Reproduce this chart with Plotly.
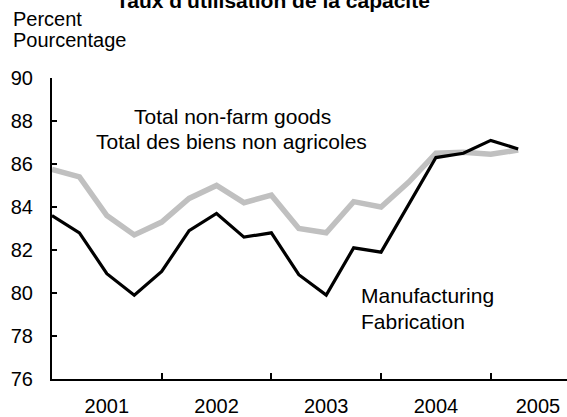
import plotly.graph_objects as go

# Quarterly capacity utilization rates, 2001Q1 - 2005Q2
start_year = 2001
quarters = ["2001Q1", "2001Q2", "2001Q3", "2001Q4",
            "2002Q1", "2002Q2", "2002Q3", "2002Q4",
            "2003Q1", "2003Q2", "2003Q3", "2003Q4",
            "2004Q1", "2004Q2", "2004Q3", "2004Q4",
            "2005Q1", "2005Q2"]
manufacturing = [83.6, 82.8, 80.9, 79.9, 81.0, 82.9, 83.7, 82.6, 82.8,
                 80.85, 79.9, 82.1, 81.9, 84.1, 86.3, 86.5, 87.1, 86.7]
non_farm_goods = [85.75, 85.4, 83.6, 82.7, 83.3, 84.4, 85.0, 84.2, 84.55,
                  83.0, 82.8, 84.25, 84.0, 85.15, 86.5, 86.55, 86.45, 86.65]
year_labels = ["2001", "2002", "2003", "2004", "2005"]
y_ticks = [76, 78, 80, 82, 84, 86, 88, 90]

# quarter "YYYYQn" -> fractional year at the start of the quarter
x = [int(q[:4]) + (int(q[5]) - 1) / 4 for q in quarters]

FONT = "Liberation Sans, Arial, sans-serif"

fig = go.Figure()
fig.add_trace(go.Scatter(x=x, y=non_farm_goods, mode="lines",
                         line=dict(color="#c0c0c0", width=5.5),
                         hoverinfo="skip", showlegend=False))
fig.add_trace(go.Scatter(x=x, y=manufacturing, mode="lines",
                         line=dict(color="#000000", width=3.2),
                         hoverinfo="skip", showlegend=False))

# year labels sit mid-year; the last one is nudged left to stay on the page
label_pos = [int(y) + 0.5 for y in year_labels]
label_pos[-1] -= 0.07

fig.update_layout(
    width=567, height=417, autosize=False,
    margin=dict(l=52, r=0, t=78, b=35),
    paper_bgcolor="white", plot_bgcolor="white",
    font=dict(family=FONT, size=20, color="black"),
    xaxis=dict(
        range=[start_year, 2005.695],
        tickmode="array", tickvals=label_pos, ticktext=year_labels,
        ticks="", showgrid=False, zeroline=False,
        showline=True, linecolor="black", linewidth=2,
        ticklabelstandoff=8,
        minor=dict(tickmode="array", tickvals=[2002, 2003, 2004, 2005],
                   ticks="inside", ticklen=6, tickwidth=2, tickcolor="black",
                   showgrid=False),
    ),
    yaxis=dict(
        range=[76, 90], tickmode="array", tickvals=y_ticks,
        ticks="inside", ticklen=5, tickwidth=2, tickcolor="black",
        showgrid=False, zeroline=False,
        showline=True, linecolor="black", linewidth=2,
        ticklabelstandoff=13,
    ),
)

annotations = [
    # title, clipped at the top edge
    dict(text="<b>Taux d'utilisation de la capacité</b>", xref="paper", yref="paper",
         x=0.43, y=1.257, xanchor="center", yanchor="middle", font=dict(size=21)),
    dict(text="Percent", xref="paper", yref="paper", x=-0.078, y=1.195,
         xanchor="left", yanchor="middle", font=dict(size=20)),
    dict(text="Pourcentage", xref="paper", yref="paper", x=-0.078, y=1.127,
         xanchor="left", yanchor="middle", font=dict(size=20)),
    dict(text="Total non-farm goods", xref="x", yref="y", x=2002.645, y=88.23,
         xanchor="center", yanchor="middle", font=dict(size=21)),
    dict(text="Total des biens non agricoles", xref="x", yref="y", x=2002.64, y=87.03,
         xanchor="center", yanchor="middle", font=dict(size=21)),
    dict(text="Manufacturing", xref="x", yref="y", x=2003.808, y=79.88,
         xanchor="left", yanchor="middle", font=dict(size=21)),
    dict(text="Fabrication", xref="x", yref="y", x=2003.808, y=78.69,
         xanchor="left", yanchor="middle", font=dict(size=21)),
]
for a in annotations:
    a.update(showarrow=False, borderpad=0)
fig.update_layout(annotations=annotations)

fig.write_html("out.html")
